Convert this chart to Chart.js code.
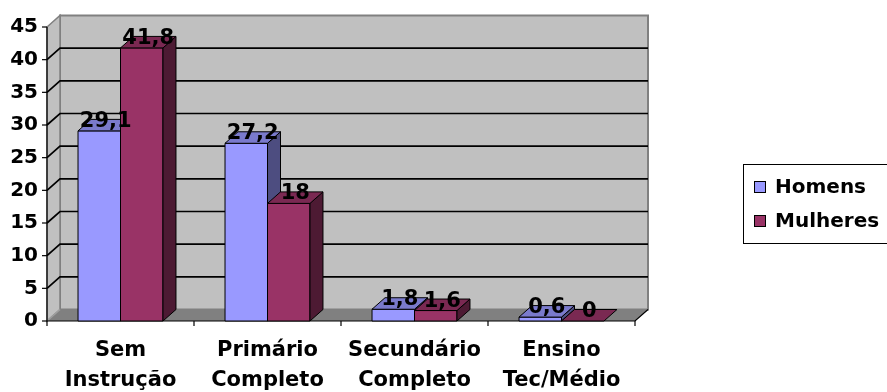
<!DOCTYPE html>
<html>
<head>
<meta charset="utf-8">
<script src="https://cdn.jsdelivr.net/npm/chart.js@4/dist/chart.umd.min.js"></script>
<style>
  html, body { margin: 0; padding: 0; background: #ffffff; }
  #wrap { width: 887px; height: 392px; }
</style>
</head>
<body>
<div id="wrap"><canvas id="c" width="887" height="392"></canvas></div>
<script>
// Education level by sex (%)
const categories = [["Sem", "Instrução"], ["Primário", "Completo"], ["Secundário", "Completo"], ["Ensino", "Tec/Médio"]];
const seriesNames = ["Homens", "Mulheres"];
const homens = [29.1, 27.2, 1.8, 0.6];
const mulheres = [41.8, 18, 1.6, 0];
const yMin = 0;
const yMax = 45;
const yStep = 5;

// Face colours for each series: front, top, side
const faces = [
  { front: "#9999FF", top: "#7A7ACC", side: "#4D4D80" },
  { front: "#993366", top: "#7A2952", side: "#4D1A33" }
];

const FONT = '"DejaVu Sans", "Liberation Sans", sans-serif';
const DX = 13;      // depth offset, horizontal
const DY = 11.5;    // depth offset, vertical

function poly(ctx, pts, fill, stroke, lw) {
  ctx.beginPath();
  ctx.moveTo(pts[0][0], pts[0][1]);
  for (let i = 1; i < pts.length; i++) ctx.lineTo(pts[i][0], pts[i][1]);
  ctx.closePath();
  if (fill) { ctx.fillStyle = fill; ctx.fill(); }
  if (stroke) { ctx.strokeStyle = stroke; ctx.lineWidth = lw || 1; ctx.stroke(); }
}

function line(ctx, pts, color, lw) {
  ctx.beginPath();
  ctx.moveTo(pts[0][0], pts[0][1]);
  for (let i = 1; i < pts.length; i++) ctx.lineTo(pts[i][0], pts[i][1]);
  ctx.strokeStyle = color;
  ctx.lineWidth = lw || 1;
  ctx.stroke();
}

function fmt(v) { return String(v).replace(".", ","); }

const box3d = {
  id: "box3d",
  beforeDatasetsDraw(chart) {
    const ctx = chart.ctx;
    const a = chart.chartArea;
    const ys = chart.scales.y;
    const L = a.left, R = a.right;
    const T = ys.getPixelForValue(yMax);
    const B = ys.getPixelForValue(yMin);
    ctx.save();
    ctx.lineJoin = "miter";

    // walls and floor
    poly(ctx, [[L + DX, T - DY], [R + DX, T - DY], [R + DX, B - DY], [L + DX, B - DY]], "#C0C0C0", "#808080", 2);
    poly(ctx, [[L, T], [L + DX, T - DY], [L + DX, B - DY], [L, B]], "#C0C0C0", "#808080", 1.5);
    poly(ctx, [[L, B], [L + DX, B - DY], [R + DX, B - DY], [R, B]], "#808080", null);
    line(ctx, [[L, B], [L + DX, B - DY]], "#A0A0A0", 1.5);

    // gridlines on side and back wall
    for (let v = yMin + yStep; v < yMax; v += yStep) {
      const py = ys.getPixelForValue(v);
      line(ctx, [[L, py], [L + DX, py - DY], [R + DX, py - DY]], "#000000", 1.7);
    }

    // axes
    line(ctx, [[L, T], [L, B + 5]], "#000000", 1.2);
    for (let v = yMin; v <= yMax; v += yStep) {
      const py = ys.getPixelForValue(v);
      line(ctx, [[L - 5, py], [L, py]], "#000000", 1.2);
    }
    line(ctx, [[L, B], [R, B], [R + DX, B - DY]], "#000000", 1.2);
    const n = categories.length;
    for (let i = 1; i <= n; i++) {
      const px = L + i * (R - L) / n;
      line(ctx, [[px, B], [px, B + 5]], "#000000", 1.2);
    }

    // bars: per category, series in order so later fronts cover earlier sides
    const metas = chart.data.datasets.map((d, i) => chart.getDatasetMeta(i));
    for (let j = 0; j < n; j++) {
      metas.forEach((meta, di) => {
        const el = meta.data[j];
        const c = faces[di];
        const l = el.x - el.width / 2, r = el.x + el.width / 2;
        const top = el.y, base = el.base;
        if (base - top > 0.5) {
          poly(ctx, [[l, top], [r, top], [r, base], [l, base]], c.front, "#000000", 1);
          poly(ctx, [[r, top], [r + DX, top - DY], [r + DX, base - DY], [r, base]], c.side, "#000000", 1);
        }
        poly(ctx, [[l, top], [r, top], [r + DX, top - DY], [l + DX, top - DY]], c.top, "#000000", 1);
      });
    }

    // value labels
    ctx.fillStyle = "#000000";
    ctx.font = "bold 21px " + FONT;
    ctx.textAlign = "center";
    ctx.textBaseline = "alphabetic";
    metas.forEach((meta, di) => {
      const vals = chart.data.datasets[di].data;
      meta.data.forEach((el, j) => {
        ctx.fillText(fmt(vals[j]), el.x + DX / 2, el.y - 4);
      });
    });
    ctx.restore();
    return false;
  },
  afterDraw(chart) {
    const ctx = chart.ctx;
    ctx.save();
    // legend
    ctx.strokeStyle = "#000000";
    ctx.lineWidth = 1;
    ctx.fillStyle = "#ffffff";
    ctx.fillRect(743.5, 164.5, 160, 79);
    ctx.strokeRect(743.5, 164.5, 160, 79);
    ctx.font = "bold 20px " + FONT;
    ctx.textAlign = "left";
    ctx.textBaseline = "middle";
    const rows = [187, 221];
    chart.data.datasets.forEach((ds, i) => {
      const cy = rows[i];
      ctx.fillStyle = ds.backgroundColor;
      ctx.fillRect(754.5, cy - 5.5, 11, 11);
      ctx.strokeRect(754.5, cy - 5.5, 11, 11);
      ctx.fillStyle = "#000000";
      ctx.fillText(ds.label, 775, cy + 1);
    });
    ctx.restore();
  }
};

new Chart(document.getElementById("c"), {
  type: "bar",
  data: {
    labels: categories,
    datasets: [
      { label: seriesNames[0], data: homens, backgroundColor: faces[0].front },
      { label: seriesNames[1], data: mulheres, backgroundColor: faces[1].front }
    ]
  },
  options: {
    responsive: false,
    animation: false,
    devicePixelRatio: 1,
    categoryPercentage: 0.578,
    barPercentage: 1,
    layout: { padding: { top: 27, right: 252, left: 0, bottom: 0 } },
    plugins: { legend: { display: false }, tooltip: { enabled: false } },
    scales: {
      x: {
        grid: { display: false, drawTicks: false },
        border: { display: false },
        ticks: {
          color: "#000000",
          font: { family: FONT, weight: "bold", size: 21, lineHeight: 1.4 },
          padding: 15,
          maxRotation: 0,
          autoSkip: false
        },
        afterFit(s) { s.height = 71; }
      },
      y: {
        min: yMin,
        max: yMax,
        grid: { display: false, drawTicks: false },
        border: { display: false },
        ticks: {
          stepSize: yStep,
          color: "#000000",
          font: { family: FONT, weight: "bold", size: 20 },
          padding: 9
        },
        afterFit(s) { s.width = 47; }
      }
    }
  },
  plugins: [box3d]
});
</script>
</body>
</html>
